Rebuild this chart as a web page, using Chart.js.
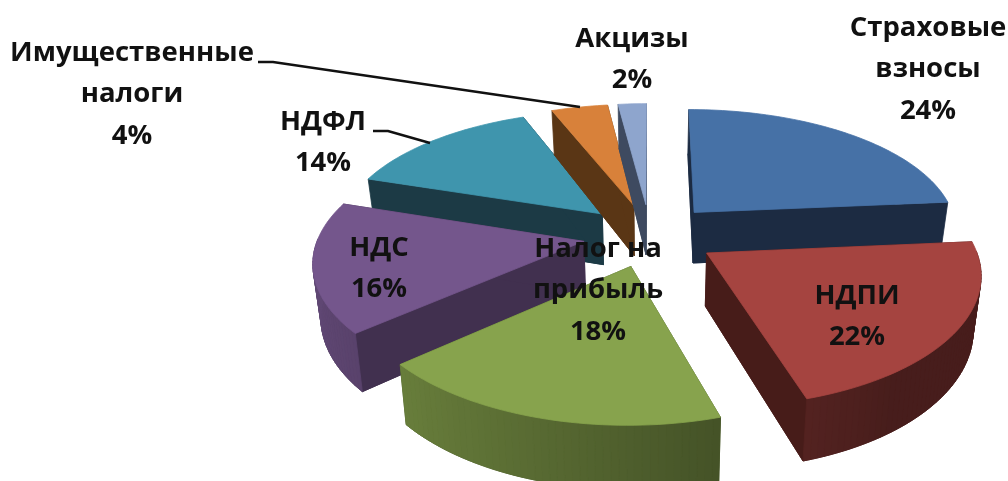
<!DOCTYPE html>
<html>
<head>
<meta charset="utf-8">
<script src="https://cdn.jsdelivr.net/npm/chart.js@4"></script>
<style>
html, body { margin: 0; background: #fff; }
#wrap { width: 1008px; height: 481px; }
</style>
</head>
<body>
<div id="wrap"><canvas id="chartTaxes"></canvas></div>
<script>
// data
const categories = ["Страховые взносы", "НДПИ", "Налог на прибыль", "НДС", "НДФЛ", "Имущественные налоги", "Акцизы"];
const shares = [23.6, 21.7, 18.3, 16.4, 14, 4, 2];
const topColors = ["#4671a6", "#a54440", "#87a34d", "#74568c", "#3f95ad", "#d8813a", "#8ea5cd"];
const sideColors = ["#1c2b42", "#471c19", "#4a5c2a", "#41304f", "#1c3a45", "#5a3615", "#3e4a60"];

// label lines and where they sit, per slice
const labelLines = [["Страховые", "взносы"], ["НДПИ"], ["Налог на", "прибыль"], ["НДС"], ["НДФЛ"], ["Имущественные", "налоги"], ["Акцизы"]];
const labelAnchors = [[928, 28], [857, 296], [598, 249], [379, 248], [323, 122], [132, 53], [632, 39]];
const lineGap = 41.5;
const leaders = [[[258, 62], [273, 62], [580, 107]], [[373, 131], [388, 131], [430, 143]]];

// fake 3d view of the pie plane
const tilt = 0.47, perspX = 0.14, perspY = 0.15, depth = 52, shrink = 0.976;
const drawOrder = [4, 5, 6, 0, 3, 1, 2];

function shade(hex, f) {
    const n = parseInt(hex.slice(1), 16);
    const c = [n >> 16, (n >> 8) & 255, n & 255].map(v => Math.round(v * f));
    return `rgb(${c[0]},${c[1]},${c[2]})`;
}

function poly(ctx, pts, color) {
    ctx.beginPath();
    pts.forEach((p, i) => i ? ctx.lineTo(p[0], p[1]) : ctx.moveTo(p[0], p[1]));
    ctx.closePath();
    ctx.fillStyle = color;
    ctx.strokeStyle = color;
    ctx.lineWidth = 0.8;
    ctx.fill();
    ctx.stroke();
}

function drawSlice(ctx, el, top, side) {
    const {x, y, startAngle, endAngle, outerRadius: R} = el.getProps(['x', 'y', 'startAngle', 'endAngle', 'outerRadius'], true);
    const mid = (startAngle + endAngle) / 2;
    const ox = Math.cos(mid) * el.options.offset;
    const oy = Math.sin(mid) * el.options.offset;
    const project = (gx, gy) => {
        const wy = 1 - perspY * gy / R;
        return [x + gx / (1 - perspX * gy / R), y + tilt * gy / wy, wy];
    };
    const lower = p => [x + (p[0] - x) * shrink, p[1] + depth / p[2]];
    const rim = a => project(ox + R * Math.cos(a), oy + R * Math.sin(a));
    const apex = project(ox, oy);

    const n = Math.max(6, Math.ceil((endAngle - startAngle) * 40));
    const pts = [];
    for (let i = 0; i <= n; i++) pts.push(rim(startAngle + (endAngle - startAngle) * i / n));

    // base and the two cut faces
    poly(ctx, [lower(apex), ...pts.map(lower)], side);
    poly(ctx, [apex, pts[0], lower(pts[0]), lower(apex)], side);
    poly(ctx, [apex, pts[n], lower(pts[n]), lower(apex)], side);

    // outer wall, only the part turned to the viewer
    for (let i = 0; i < n; i++) {
        const a = startAngle + (endAngle - startAngle) * (i + 0.5) / n;
        if (Math.sin(a) < -0.02) continue;
        const f = Math.max(0.43, 0.58 - 0.25 * Math.cos(a));
        poly(ctx, [pts[i], pts[i + 1], lower(pts[i + 1]), lower(pts[i])], shade(top, f));
    }
    poly(ctx, [apex, ...pts], top);
}

const pie3d = {
    id: 'pie3d',
    beforeDatasetDraw(chart, args) {
        const ctx = chart.ctx;
        const ds = chart.data.datasets[args.index];
        drawOrder.forEach(i => drawSlice(ctx, args.meta.data[i], ds.backgroundColor[i], sideColors[i]));
        return false;
    },
    afterDatasetsDraw(chart) {
        const ctx = chart.ctx;
        ctx.save();
        ctx.strokeStyle = '#111';
        ctx.lineWidth = 2.6;
        leaders.forEach(l => {
            ctx.beginPath();
            l.forEach((p, i) => i ? ctx.lineTo(p[0], p[1]) : ctx.moveTo(p[0], p[1]));
            ctx.stroke();
        });
        ctx.fillStyle = '#111';
        ctx.font = 'bold 27.5px "Open Sans"';
        ctx.textAlign = 'center';
        ctx.textBaseline = 'middle';
        const total = shares.reduce((a, b) => a + b, 0);
        labelLines.forEach((lines, i) => {
            const rows = [...lines, Math.round(shares[i] / total * 100) + '%'];
            rows.forEach((t, j) => ctx.fillText(t, labelAnchors[i][0], labelAnchors[i][1] + j * lineGap));
        });
        ctx.restore();
    }
};

const ctx = document.getElementById('chartTaxes').getContext('2d');
const chartTaxes = new Chart(ctx, {
    type: 'pie',
    data: {
        labels: categories,
        datasets: [{
            data: shares,
            backgroundColor: topColors,
            borderWidth: 0,
            offset: 67
        }]
    },
    options: {
        responsive: true,
        maintainAspectRatio: false,
        animation: false,
        radius: 265,
        layout: { padding: { left: 292, bottom: 11 } },
        plugins: { legend: { display: false }, tooltip: { enabled: false } }
    },
    plugins: [pie3d]
});
</script>
</body>
</html>
